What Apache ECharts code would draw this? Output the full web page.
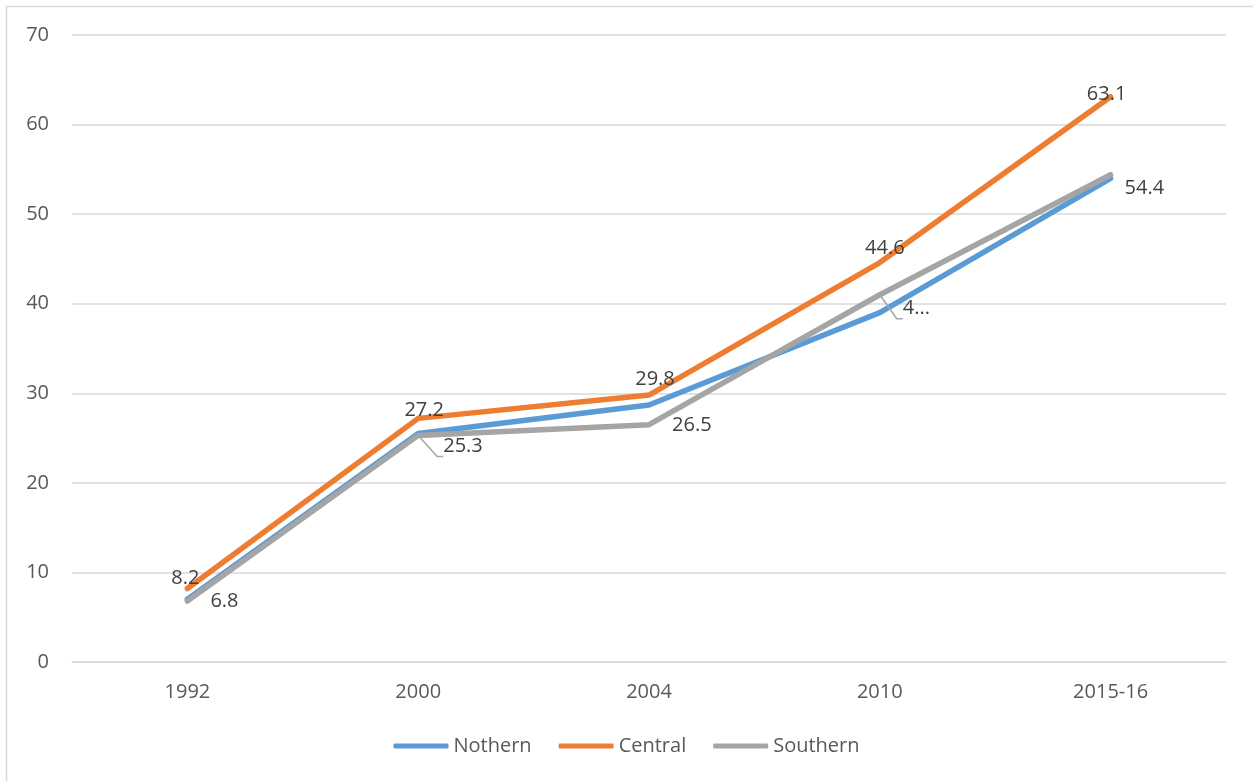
<!DOCTYPE html>
<html>
<head>
<meta charset="utf-8">
<script src="https://cdn.jsdelivr.net/npm/echarts@6/dist/echarts.min.js"></script>
<style>
  html, body { margin: 0; padding: 0; background: #fff; }
  #chart { width: 1253px; height: 781px; }
</style>
</head>
<body>
<div id="chart"></div>
<script>
// Survey years and regional values
const years = ['1992', '2000', '2004', '2010', '2015-16'];
const northern = [7.0, 25.5, 28.7, 39.0, 54.0];
const central = [8.2, 27.2, 29.8, 44.6, 63.1];
const southern = [6.8, 25.3, 26.5, 41.0, 54.4];
// Label text shown next to the Southern points (the 2010 label is clipped)
const southernLabels = ['6.8', '25.3', '26.5', '4...', '54.4'];
const yTicks = [0, 10, 20, 30, 40, 50, 60, 70];

const FONT = '"Open Sans", "Liberation Sans", sans-serif';
const TEXT = '#595959';
const LABEL = '#404040';

// per-point label nudges (pixels) so labels sit where they were hand-placed
const centralLabelNudge = [[-2, 0], [6, 2], [6, -6], [5, -4], [-4, 7]];
const southernLabelNudge = [[9, -10], [11, 1], [9, -9], [9, 4], [0, 4]];
const southernGuide = [false, true, false, true, false];

const chart = echarts.init(document.getElementById('chart'), null, { renderer: 'canvas' });

// invisible point markers so the data labels have an anchor
const hiddenSymbol = { symbol: 'circle', symbolSize: 0.01, showSymbol: true, showAllSymbol: true };

const centralData = central.map((v, i) => ({
  value: v,
  label: { offset: centralLabelNudge[i] }
}));
const southernData = southern.map((v, i) => ({
  value: v,
  label: { offset: [southernLabelNudge[i][0], 10 + southernLabelNudge[i][1]] },
  labelLine: { show: southernGuide[i] }
}));

chart.setOption({
  animation: false,
  backgroundColor: '#ffffff',
  graphic: [{
    type: 'rect',
    shape: { x: 6.5, y: 6.5, width: 1400, height: 1000 },
    style: { fill: 'none', stroke: '#D9D9D9', lineWidth: 1.5 },
    silent: true
  }],
  grid: { left: 72, right: 27, top: 35, bottom: 119 },
  legend: {
    bottom: 20,
    left: 'center',
    itemWidth: 55,
    itemHeight: 5,
    itemGap: 27,
    textStyle: { fontFamily: FONT, fontSize: 20, color: TEXT },
    data: [
      { name: 'Nothern', icon: 'roundRect' },
      { name: 'Central', icon: 'roundRect' },
      { name: 'Southern', icon: 'roundRect' }
    ]
  },
  xAxis: {
    type: 'category',
    data: years,
    boundaryGap: true,
    axisLine: { show: true, lineStyle: { color: '#D9D9D9', width: 1.5 } },
    axisTick: { show: false },
    axisLabel: { fontFamily: FONT, fontSize: 20, color: TEXT, margin: 20 }
  },
  yAxis: {
    type: 'value',
    min: yTicks[0],
    max: yTicks[yTicks.length - 1],
    interval: 10,
    axisLine: { show: false },
    axisTick: { show: false },
    splitLine: { lineStyle: { color: '#D9D9D9', width: 1.5 } },
    axisLabel: { fontFamily: FONT, fontSize: 20, color: TEXT, margin: 23 }
  },
  series: [
    Object.assign({
      name: 'Nothern',
      type: 'line',
      data: northern,
      lineStyle: { color: '#5B9BD5', width: 5.5, cap: 'round', join: 'round' },
      itemStyle: { color: '#5B9BD5' },
      label: { show: false }
    }, hiddenSymbol),
    Object.assign({
      name: 'Central',
      type: 'line',
      data: centralData,
      lineStyle: { color: '#ED7D31', width: 5.5, cap: 'round', join: 'round' },
      itemStyle: { color: '#ED7D31' },
      label: {
        show: true,
        position: 'top',
        distance: 0,
        fontFamily: FONT,
        fontSize: 20,
        color: LABEL
      },
      z: 3
    }, hiddenSymbol),
    Object.assign({
      name: 'Southern',
      type: 'line',
      data: southernData,
      lineStyle: { color: '#A5A5A5', width: 5.5, cap: 'round', join: 'round' },
      itemStyle: { color: '#A5A5A5' },
      label: {
        show: true,
        position: 'right',
        distance: 14,
        fontFamily: FONT,
        fontSize: 20,
        color: LABEL,
        formatter: p => southernLabels[p.dataIndex]
      },
      labelLine: {
        show: false,
        length2: 6,
        lineStyle: { color: '#A5A5A5', width: 1.5 }
      },
      z: 4
    }, hiddenSymbol)
  ]
});
</script>
</body>
</html>
